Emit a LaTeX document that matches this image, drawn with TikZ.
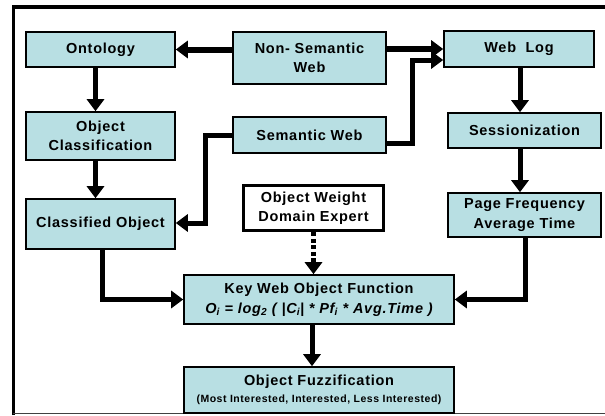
\documentclass[tikz,border=0pt]{standalone}
\usepackage{fontspec}
\setmainfont{Liberation Sans}[LetterSpace=5]
\usetikzlibrary{arrows.meta,calc}
\definecolor{boxfill}{RGB}{184,223,227}
\tikzset{
  box/.style={draw=black, line width=1.6pt, fill=boxfill, align=center,
    font=\bfseries\fontsize{14.5}{19.5}\selectfont, inner sep=1pt, anchor=center},
  wbox/.style={box, fill=white, line width=3.5pt},
  conn/.style={line width=5pt, -{Triangle[length=12pt,width=17pt]}},
  dotconn/.style={conn, line width=4.5pt, dash pattern=on 4pt off 2.5pt}
}
\begin{document}
\begin{tikzpicture}[x=1pt,y=-1pt]
\useasboundingbox (0,0) rectangle (605,415);
% frame
\draw[line width=3.4pt] (13.4,415) -- (13.4,7) -- (606,7);
\draw[line width=1.3pt, black!75] (13.4,413.6) -- (606,413.6);
% nodes
\node[box, minimum width=149pt, minimum height=35pt] (onto) at (100.5,49.5) {Ontology};
\node[box, minimum width=153pt, minimum height=52pt] (nsw) at (309.5,58) {Non- Semantic\\Web};
\node[box, minimum width=150pt, minimum height=36pt] (wlog) at (519,49) {Web\ \ Log};
\node[box, minimum width=149pt, minimum height=48pt] (ocls) at (100.5,136) {Object\\Classification};
\node[box, minimum width=153pt, minimum height=36pt] (sw) at (309.5,135) {Semantic Web};
\node[box, minimum width=153pt, minimum height=35pt] (sess) at (524.5,130.5) {Sessionization};
\node[box, minimum width=149pt, minimum height=50pt] (cobj) at (100.5,224) {Classified Object};
\node[wbox, minimum width=140pt, minimum height=45pt] (ow) at (313.5,208) {Object Weight\\Domain Expert};
\node[box, minimum width=153pt, minimum height=44pt] (pf) at (524.5,215) {Page Frequency\\Average Time};
\node[box, minimum width=270pt, minimum height=49pt] (kwo) at (319,299.5) {Key Web Object Function\\\itshape O\textsubscript{i} = log\textsubscript{2} ( |C\textsubscript{i}| * Pf\textsubscript{i} * Avg.Time )};
\node[box, minimum width=270pt, minimum height=46pt] (ofz) at (319,390) {Object Fuzzification\\[-3pt]{\fontsize{10.5}{12}\selectfont (Most Interested, Interested, Less Interested)}};
% connectors
\draw[conn, line width=6pt] (nsw.west |- onto) -- (onto.east);
\draw[conn, line width=6pt] (nsw.east |- wlog) -- (wlog.west);
\draw[conn] ($(sw.east)+(0,8)$) -| ($(wlog.west)+(-31,11)$) -- ($(wlog.west)+(0,11)$);
\draw[conn] ($(sw.west)+(0,0)$) -| ($(cobj.east)+(30,-1)$) -- ($(cobj.east)+(0,-1)$);
\draw[conn] ([xshift=-5pt]onto.south) -- ([xshift=-5pt]ocls.north);
\draw[conn] ([xshift=-5pt]ocls.south) -- ([xshift=-5pt]cobj.north);
\draw[conn] ([xshift=1pt]wlog.south) -- ([xshift=1pt]wlog.south |- sess.north);
\draw[conn] ([xshift=-4.5pt]sess.south) -- ([xshift=-4.5pt]sess.south |- pf.north);
\draw[conn] ([xshift=1.5pt]cobj.south) |- (kwo.west);
\draw[conn] ([xshift=0.5pt]pf.south) |- (kwo.east);
\draw[dotconn] (ow.south) -- (ow.south |- kwo.north);
\draw[conn] ([xshift=-7pt]kwo.south) -- ([xshift=-7pt]kwo.south |- ofz.north);
\end{tikzpicture}
\end{document}
